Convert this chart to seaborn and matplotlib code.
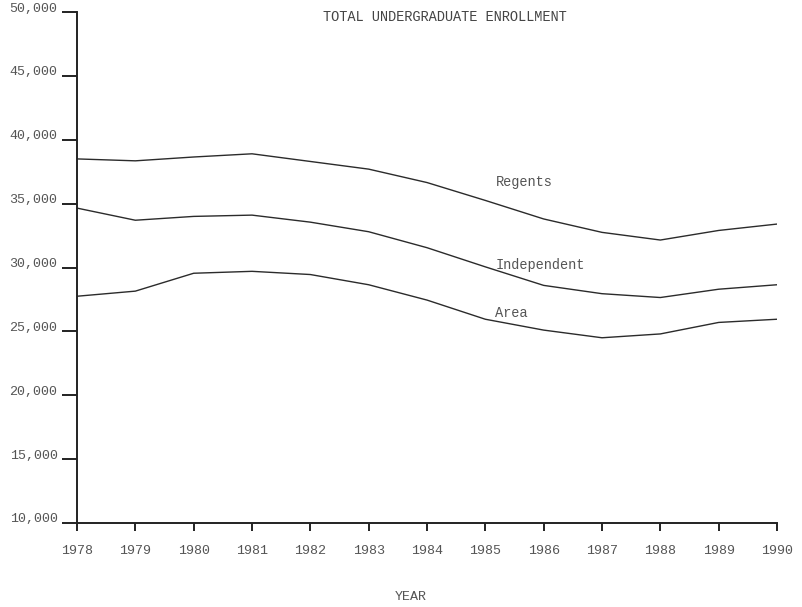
import matplotlib
matplotlib.use("Agg")
import matplotlib.pyplot as plt
import matplotlib.transforms as mtransforms
from matplotlib.ticker import FuncFormatter
import seaborn as sns
import pandas as pd

years = list(range(1978, 1991))
regents = [38500, 38350, 38650, 38900, 38300, 37700, 36650, 35250, 33800, 32750, 32150, 32900, 33400]
independent = [34650, 33700, 34000, 34100, 33550, 32800, 31550, 30050, 28600, 27950, 27650, 28300, 28650]
area = [27750, 28150, 29550, 29700, 29450, 28650, 27450, 25950, 25100, 24500, 24800, 25700, 25950]
series_names = ["Regents", "Independent", "Area"]
y_ticks = list(range(10000, 50001, 5000))

df = pd.DataFrame({
    "year": years * 3,
    "enrollment": regents + independent + area,
    "series": sum([[n] * len(years) for n in series_names], []),
})

sns.set_style("white")
plt.rcParams["font.family"] = ["Liberation Mono", "DejaVu Sans Mono"]

W, H, DPI = 803, 607, 100
fig = plt.figure(figsize=(W / DPI, H / DPI), dpi=DPI)
ax = fig.add_axes([77 / W, 1 - 523 / H, 700 / W, 511 / H])

ink = "#2b2b2b"
text_col = "#555555"

sns.lineplot(data=df, x="year", y="enrollment", hue="series",
             palette={n: ink for n in series_names}, linewidth=1.0,
             legend=False, ax=ax)

ax.set_xlim(1978, 1990)
ax.set_ylim(10000, 50000)
ax.set_xticks(years)
ax.set_yticks(y_ticks)
ax.yaxis.set_major_formatter(FuncFormatter(lambda v, p: f"{int(v):,}"))
ax.set_xlabel("")
ax.set_ylabel("")

for side in ["top", "right"]:
    ax.spines[side].set_visible(False)
for side in ["left", "bottom"]:
    ax.spines[side].set_color("#222222")
    ax.spines[side].set_linewidth(1.4)

ax.tick_params(axis="x", bottom=True, direction="out", length=6, width=1.4, color="#222222",
               pad=10, labelsize=9.6, labelcolor=text_col)
ax.tick_params(axis="y", left=True, direction="out", length=11, width=1.4, color="#222222",
               pad=3, labelsize=9.6, labelcolor=text_col)

# lift the y tick labels slightly above their ticks
offset = mtransforms.ScaledTranslation(0, 5 / DPI, fig.dpi_scale_trans)
for lab in ax.get_yticklabels():
    lab.set_transform(lab.get_transform() + offset)

# series labels placed beside their lines
label_pos = {"Regents": (1985.18, 36720), "Independent": (1985.18, 30230), "Area": (1985.17, 26400)}
for name, (lx, ly) in label_pos.items():
    ax.text(lx, ly, name, fontsize=9.8, color=text_col, ha="left", va="center")

fig.text(445 / W, 1 - 17 / H, "TOTAL UNDERGRADUATE ENROLLMENT", ha="center", va="center",
         fontsize=9.8, color="#444444")
fig.text(411 / W, 1 - 597 / H, "YEAR", ha="center", va="center", fontsize=9.6, color=text_col)

fig.savefig("out.png", dpi=DPI, facecolor="white")
